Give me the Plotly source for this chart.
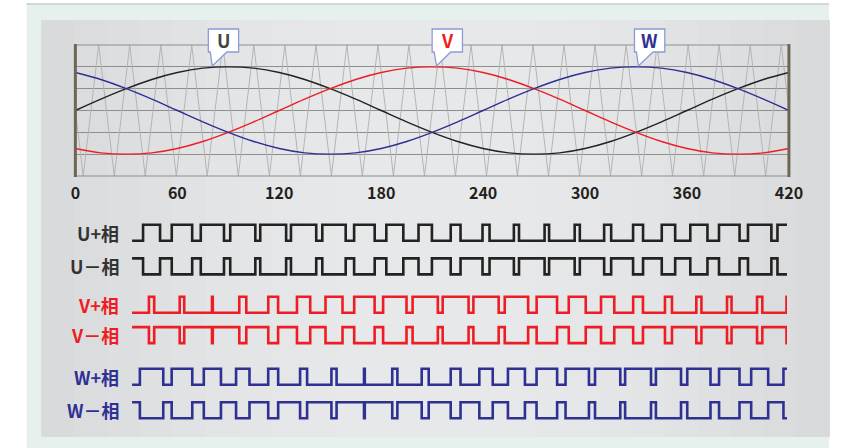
import plotly.graph_objects as go

# ---- data ------------------------------------------------------------------
# top chart: phase angle (deg) with three phase references and carrier
angle = [0, 15, 30, 45, 60, 75, 90, 105, 120, 135, 150, 165, 180, 195, 210,
         225, 240, 255, 270, 285, 300, 315, 330, 345, 360, 375, 390, 405, 420]
u_ref = [0.00, 0.26, 0.50, 0.71, 0.87, 0.97, 1.00, 0.97, 0.87, 0.71, 0.50, 0.26,
         0.00, -0.26, -0.50, -0.71, -0.87, -0.97, -1.00, -0.97, -0.87, -0.71,
         -0.50, -0.26, 0.00, 0.26, 0.50, 0.71, 0.87]
v_ref = [-0.87, -0.97, -1.00, -0.97, -0.87, -0.71, -0.50, -0.26, 0.00, 0.26,
         0.50, 0.71, 0.87, 0.97, 1.00, 0.97, 0.87, 0.71, 0.50, 0.26, 0.00,
         -0.26, -0.50, -0.71, -0.87, -0.97, -1.00, -0.97, -0.87]
w_ref = [0.87, 0.71, 0.50, 0.26, 0.00, -0.26, -0.50, -0.71, -0.87, -0.97,
         -1.00, -0.97, -0.87, -0.71, -0.50, -0.26, 0.00, 0.26, 0.50, 0.71,
         0.87, 0.97, 1.00, 0.97, 0.87, 0.71, 0.50, 0.26, 0.00]

# triangular carrier vertices
carrier_x = [-4.5, 4.6, 13.7, 22.9, 32.0, 41.1, 50.3, 59.4, 68.5, 77.6, 86.8,
             95.9, 105.0, 114.2, 123.3, 132.4, 141.6, 150.7, 159.8, 168.9,
             178.1, 187.2, 196.3, 205.5, 214.6, 223.7, 232.9, 242.0, 251.1,
             260.2, 269.4, 278.5, 287.6, 296.8, 305.9, 315.0, 324.2, 333.3,
             342.4, 351.5, 360.7, 369.8, 378.9, 388.1, 397.2, 406.3, 415.5,
             424.6]
carrier_y = [1.5, -1.5, 1.5, -1.5, 1.5, -1.5, 1.5, -1.5, 1.5, -1.5, 1.5, -1.5,
             1.5, -1.5, 1.5, -1.5, 1.5, -1.5, 1.5, -1.5, 1.5, -1.5, 1.5, -1.5,
             1.5, -1.5, 1.5, -1.5, 1.5, -1.5, 1.5, -1.5, 1.5, -1.5, 1.5, -1.5,
             1.5, -1.5, 1.5, -1.5, 1.5, -1.5, 1.5, -1.5, 1.5, -1.5, 1.5, -1.5]

x_ticks = [0, 60, 120, 180, 240, 300, 360, 420]
grid_levels = [-1.5, -1.0, -0.5, 0.0, 0.5, 1.0, 1.5]

# bottom chart: gate pulses (centre and width of each "+" pulse)
pulse_center = [12.5, 32.0, 51.5, 71.0, 90.5, 110.0, 129.5, 149.0, 168.5,
                188.0, 207.5, 227.0, 246.5, 266.0, 285.5, 305.0, 324.5, 344.0,
                363.5, 383.0, 402.5, 422.0]
u_width = [10.9, 13.1, 14.9, 16.1, 16.6, 16.2, 15.0, 13.2, 10.9, 8.6, 6.3, 4.5,
           3.3, 2.9, 3.3, 4.5, 6.4, 8.6, 11.0, 13.2, 15.0, 16.2]
v_width = [3.4, 2.9, 0.5, 4.5, 6.3, 8.5, 10.9, 13.1, 15.0, 16.2, 16.6, 16.2,
           15.0, 13.1, 10.9, 8.5, 6.3, 4.5, 3.3, 2.9, 3.4, 4.6]
w_width = [15.0, 13.2, 11.0, 8.6, 6.4, 4.5, 3.3, 0.5, 3.3, 4.5, 6.3, 8.6, 10.9,
           13.2, 15.0, 16.2, 16.6, 16.1, 14.9, 13.1, 10.9, 8.5]

# ---- styling ---------------------------------------------------------------
W, H = 843, 448
FONT = "Noto Sans CJK JP"
COL = {"U": "#222222", "V": "#ee1d24", "W": "#2e3192"}
LABEL_COL = {"U": "#333333", "V": "#ee1d24", "W": "#2e3192"}
ROW_BASE = {"U+": 11.1, "U-": 9.0, "V+": 6.6, "V-": 4.7, "W+": 2.1, "W-": 0.0}


def px(x):
    return x / W


def py(y):
    return 1 - y / H


def pulse_train(widths, invert=False):
    xs, ys = [0.0], [0]
    level = 0
    for c, w in zip(pulse_center, widths):
        rise, fall = c - w / 2, c + w / 2
        if rise >= 420:
            break
        xs.append(rise)
        ys.append(1)
        level = 1
        if fall < 420:
            xs.append(fall)
            ys.append(0)
            level = 0
    xs.append(420.0)
    ys.append(level)
    if invert:
        ys = [1 - v for v in ys]
    return xs, ys


fig = go.Figure()

# carrier + references
fig.add_trace(go.Scatter(x=carrier_x, y=carrier_y, mode="lines",
                         line=dict(color="#b4b4b4", width=1), hoverinfo="skip"))
for name, vals in (("U", u_ref), ("V", v_ref), ("W", w_ref)):
    fig.add_trace(go.Scatter(x=angle, y=vals, mode="lines",
                             line=dict(color=COL[name], width=1.4, shape="spline"),
                             hoverinfo="skip"))

# gate signals
for phase, widths in (("U", u_width), ("V", v_width), ("W", w_width)):
    for sign, inv in (("+", False), ("-", True)):
        xs, ys = pulse_train(widths, inv)
        base = ROW_BASE[phase + sign]
        fig.add_trace(go.Scatter(x=xs, y=[base + v for v in ys], mode="lines",
                                 line=dict(color=COL[phase], width=2.6, shape="hv"),
                                 xaxis="x2", yaxis="y2", hoverinfo="skip"))

# ---- background panels -----------------------------------------------------
shapes = [
    dict(type="rect", xref="paper", yref="paper", x0=px(22), x1=1, y0=0, y1=py(4),
         fillcolor="#e6f0ed", line=dict(width=0), layer="below"),
    dict(type="line", xref="paper", yref="paper", x0=px(22), x1=1, y0=py(4), y1=py(4),
         line=dict(color="#c8cccb", width=1.5), layer="below"),
]
n_strips = 24
left, right = 37, 843
for i in range(n_strips):
    t = (i + 0.5) / n_strips
    d = abs(t - 0.5) * 2
    g = int(232 - 16 * d * d)
    shapes.append(dict(type="rect", xref="paper", yref="paper",
                       x0=px(left + (right - left) * i / n_strips),
                       x1=px(left + (right - left) * (i + 1) / n_strips + 1),
                       y0=py(437), y1=py(20),
                       fillcolor=f"rgb({g},{g + 1},{g + 3})",
                       line=dict(width=0), layer="below"))

# plot frame: top/bottom lines and brown side bars
for yy in (45, 176):
    shapes.append(dict(type="line", xref="paper", yref="paper", x0=px(72), x1=px(802),
                       y0=py(yy), y1=py(yy), line=dict(color="#8e8e8e", width=1.2)))
for xx in (72, 802):
    shapes.append(dict(type="line", xref="paper", yref="paper", x0=px(xx), x1=px(xx),
                       y0=py(177), y1=py(44), line=dict(color="#6f6456", width=3)))

# callout bubbles
annotations = []
bubbles = [("U", 208, 212), ("V", 437, 441.5), ("W", 644, 648)]
for name, bx, tipx in bubbles:
    x0, x1, y0, y1 = bx, bx + 31, 29, 52
    path = (f"M {px(x0)},{py(y0)} L {px(x1)},{py(y0)} L {px(x1)},{py(y1)} "
            f"L {px(x0 + 19)},{py(y1)} L {px(tipx)},{py(66)} "
            f"L {px(x0 + 2)},{py(y1)} L {px(x0)},{py(y1)} Z")
    shapes.append(dict(type="path", xref="paper", yref="paper", path=path,
                       fillcolor="white", line=dict(color="#8c9bd4", width=1.3)))
    annotations.append(dict(xref="paper", yref="paper", x=px(x0 + 15.5), y=py(40.5),
                            xanchor="center", yanchor="middle",
                            text=name, showarrow=False,
                            font=dict(family=FONT, size=18, weight="bold",
                                      color=LABEL_COL[name] if name != "U" else "#444444")))

# row labels
for key, base in ROW_BASE.items():
    phase, sign = key[0], key[1]
    txt = f"{phase}{'+' if sign == '+' else '－'}相"
    annotations.append(dict(xref="paper", yref="y2", x=px(119), y=base + 0.5,
                            xanchor="right", yanchor="middle", text=txt, showarrow=False,
                            font=dict(family=FONT, size=18, weight="bold",
                                      color=LABEL_COL[phase])))

fig.update_layout(
    width=W, height=H,
    autosize=False,
    margin=dict(l=0, r=0, t=0, b=0),
    paper_bgcolor="white",
    plot_bgcolor="rgba(0,0,0,0)",
    showlegend=False,
    shapes=shapes,
    annotations=annotations,
    xaxis=dict(domain=[px(72), px(802)], range=[0, 420], tickvals=x_ticks,
               showgrid=False, zeroline=False, showline=False,
               ticks="outside", ticklen=3, tickcolor="rgba(0,0,0,0)",
               tickfont=dict(family=FONT, size=16, weight="bold", color="#231f20"),
               anchor="y"),
    yaxis=dict(domain=[py(176), py(45)], range=[-1.5, 1.5], tickvals=grid_levels,
               showgrid=True, gridcolor="#8e8e8e", gridwidth=1, zeroline=False,
               showticklabels=False, showline=False, anchor="x"),
    xaxis2=dict(domain=[px(130), px(800)], range=[0, 420], visible=False, anchor="y2"),
    yaxis2=dict(domain=[py(425), py(215)], range=[-0.42, 12.71], visible=False,
                anchor="x2"),
)

fig.write_html(
    "out.html",
    config={"displayModeBar": False, "responsive": False},
    post_script=(
        "document.body.style.margin='0';"
        "document.body.style.overflow='hidden';"
        "var gd=document.getElementById('{plot_id}');"
        "gd.style.width='843px';gd.style.height='448px';"
        "Plotly.relayout(gd,{width:843,height:448});"
    ),
)
